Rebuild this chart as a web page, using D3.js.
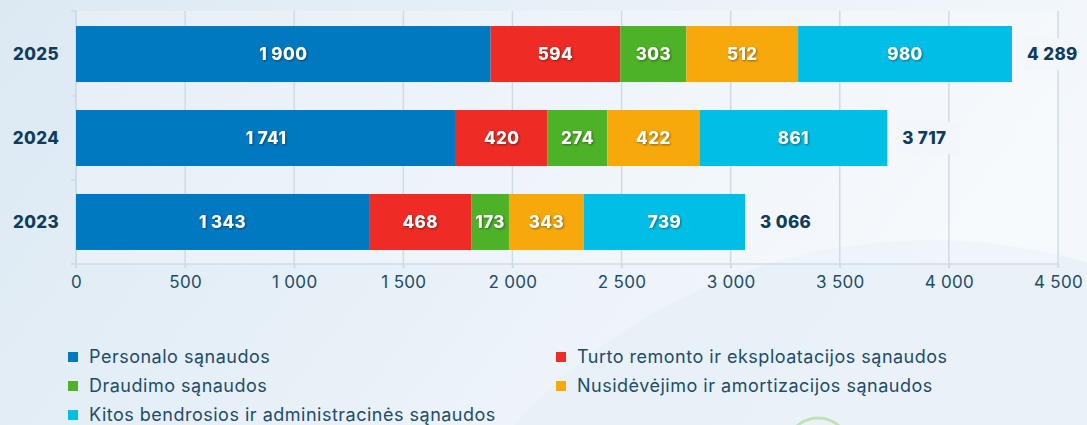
<!DOCTYPE html>
<html>
<head>
<meta charset="utf-8">
<script src="https://cdn.jsdelivr.net/npm/d3@7"></script>
<style>
  html, body { margin: 0; padding: 0; }
  body { width: 1087px; height: 425px; overflow: hidden; font-family: Inter, "Open Sans", sans-serif; }
</style>
</head>
<body>
<div class="graph"></div>
<script>
// duomenys
const years = ['2025', '2024', '2023']
const categories = [
  'Personalo sąnaudos',
  'Turto remonto ir eksploatacijos sąnaudos',
  'Draudimo sąnaudos',
  'Nusidėvėjimo ir amortizacijos sąnaudos',
  'Kitos bendrosios ir administracinės sąnaudos'
]
const personalo = [1900, 1741, 1343]
const turto = [594, 420, 468]
const draudimo = [303, 274, 173]
const nusidevejimo = [512, 422, 343]
const kitos = [980, 861, 739]
const totals = [4289, 3717, 3066]
const xTicks = [0, 500, 1000, 1500, 2000, 2500, 3000, 3500, 4000, 4500]

const colors = ['#0079c1', '#ee2b24', '#4db227', '#f7a80b', '#00bee5']

const width = 1087, height = 425
const textDark = '#0e3d5c'
const font = 'Inter, "Open Sans", sans-serif'

const series = [personalo, turto, draudimo, nusidevejimo, kitos]

// formatas su tarpu tūkstančiams
const fmt = d3.formatLocale({ decimal: ',', thousands: ' ', grouping: [3], currency: ['', ' €'] }).format(',d')

const svg = d3.select('.graph')
  .append('svg')
  .attr('width', width)
  .attr('height', height)
  .style('font-family', font)

// fonas
const defs = svg.append('defs')
const bg = defs.append('linearGradient').attr('id', 'bg').attr('x1', 0).attr('x2', 1).attr('y1', 0).attr('y2', 0.3)
bg.append('stop').attr('offset', '0%').attr('stop-color', '#dce9f3')
bg.append('stop').attr('offset', '100%').attr('stop-color', '#f4f8fc')

svg.append('rect').attr('width', width).attr('height', height).attr('fill', 'url(#bg)')
svg.append('circle').attr('cx', 930).attr('cy', 800).attr('r', 560).attr('fill', '#e6eff7').attr('opacity', 0.7)
svg.append('circle').attr('cx', 818).attr('cy', 450).attr('r', 32).attr('fill', 'none').attr('stroke', '#bfe3b5').attr('stroke-width', 3)

const margin = { left: 76, right: 29, top: 12, bottom: 161 }

const x = d3.scaleLinear().domain([0, 4500]).range([margin.left, width - margin.right])
const y = d3.scaleBand().domain(years).range([margin.top, height - margin.bottom]).paddingInner(0.333).paddingOuter(0.167)

// plotas
svg.append('rect')
  .attr('x', x(0)).attr('y', margin.top - 1)
  .attr('width', x(4500) - x(0)).attr('height', height - margin.bottom - margin.top + 1)
  .attr('fill', '#ffffff').attr('opacity', 0.25)

// tinklelis
svg.append('g')
  .selectAll('line')
  .data(xTicks)
  .enter()
  .append('line')
  .attr('x1', d => x(d)).attr('x2', d => x(d))
  .attr('y1', margin.top - 1).attr('y2', height - margin.bottom + 4)
  .attr('stroke', '#cfdbe5').attr('stroke-width', 1.5)

// x ašis
const xAxis = svg.append('g')
  .attr('transform', `translate(0,${height - margin.bottom})`)
  .call(d3.axisBottom(x).tickValues(xTicks).tickFormat(fmt).tickSize(4).tickPadding(8))
xAxis.select('.domain').attr('stroke', '#cfdbe5').attr('stroke-width', 1.5).attr('d', `M${x(0) - 5},0H${x(4500)}`)
xAxis.selectAll('.tick line').attr('stroke', '#cfdbe5').attr('stroke-width', 1.5)
xAxis.selectAll('text')
  .attr('fill', '#1d4c6c')
  .style('font-size', '17px')
  .style('letter-spacing', '0.3px')
  .style('font-family', font)

// y ašis
const yAxisG = svg.append('g').attr('transform', `translate(${x(0)},0)`)
yAxisG.append('line')
  .attr('x1', 0).attr('x2', 0)
  .attr('y1', margin.top - 1).attr('y2', height - margin.bottom)
  .attr('stroke', '#cfdbe5').attr('stroke-width', 1.5)
const bounds = [margin.top - 1].concat(years.map(d => y(d) + y.bandwidth() + y.step() * y.paddingInner() / 2))
yAxisG.selectAll('.yt')
  .data(bounds)
  .enter()
  .append('line')
  .attr('x1', -5).attr('x2', 0)
  .attr('y1', d => d).attr('y2', d => d)
  .attr('stroke', '#cfdbe5').attr('stroke-width', 1.5)

svg.append('g')
  .selectAll('text')
  .data(years)
  .enter()
  .append('text')
  .attr('x', 36)
  .attr('y', d => y(d) + y.bandwidth() / 2)
  .attr('dy', '0.35em')
  .attr('text-anchor', 'middle')
  .attr('fill', textDark)
  .style('font-weight', 800)
  .style('font-size', '17px')
  .style('letter-spacing', '0.4px')
  .text(d => d)

// stulpeliai
const stackData = years.map((yr, i) => {
  let acc = 0
  return series.map((s, k) => {
    const seg = { year: yr, k: k, x0: acc, x1: acc + s[i], v: s[i] }
    acc += s[i]
    return seg
  })
}).flat()

const segs = svg.append('g')
segs.selectAll('rect')
  .data(stackData)
  .enter()
  .append('rect')
  .attr('x', d => x(d.x0))
  .attr('width', d => x(d.x1) - x(d.x0))
  .attr('y', d => y(d.year))
  .attr('height', y.bandwidth())
  .attr('fill', d => colors[d.k])

segs.selectAll('text')
  .data(stackData)
  .enter()
  .append('text')
  .attr('x', d => (x(d.x0) + x(d.x1)) / 2)
  .attr('y', d => y(d.year) + y.bandwidth() / 2)
  .attr('dy', '0.35em')
  .attr('text-anchor', 'middle')
  .attr('fill', '#ffffff')
  .style('font-weight', 800)
  .style('font-size', '17px')
  .style('letter-spacing', '0.4px')
  .style('filter', 'drop-shadow(1px 1px 1px rgba(0,0,0,0.4))')
  .text(d => fmt(d.v))

// sumos
const totalG = svg.append('g')
  .selectAll('g')
  .data(years)
  .enter()
  .append('g')
  .attr('transform', (d, i) => `translate(${x(totals[i]) + 15},${y(d) + y.bandwidth() / 2})`)
totalG.append('rect')
  .attr('x', -4).attr('y', -16).attr('width', 62).attr('height', 32)
  .attr('fill', '#f3f7fb')
totalG.append('text')
  .attr('dy', '0.35em')
  .attr('fill', textDark)
  .style('font-weight', 800)
  .style('font-size', '17px')
  .style('letter-spacing', '0.4px')
  .text((d, i) => fmt(totals[i]))

// legenda
const legendPos = [[68, 357], [556, 357], [68, 386], [556, 386], [68, 415]]
const legend = svg.append('g')
  .selectAll('g')
  .data(categories)
  .enter()
  .append('g')
  .attr('transform', (d, i) => `translate(${legendPos[i][0]},${legendPos[i][1]})`)
legend.append('rect')
  .attr('x', 0).attr('y', -5).attr('width', 10).attr('height', 10)
  .attr('fill', (d, i) => colors[i])
legend.append('text')
  .attr('x', 21)
  .attr('dy', '0.35em')
  .attr('fill', '#1d4c6c')
  .style('font-size', '18px')
  .style('letter-spacing', '0.5px')
  .text(d => d)
</script>
</body>
</html>
